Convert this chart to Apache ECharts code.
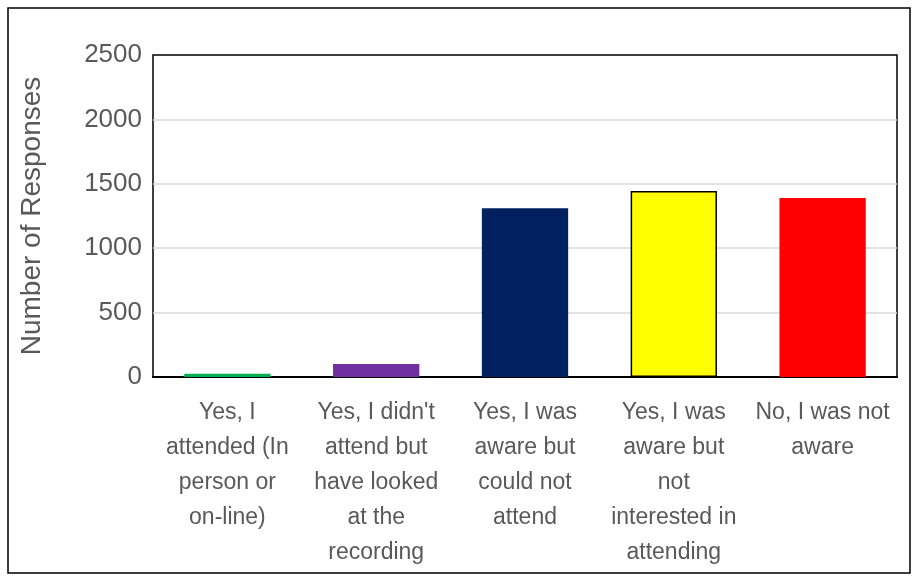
<!DOCTYPE html>
<html><head><meta charset="utf-8">
<script src="https://cdn.jsdelivr.net/npm/echarts@6/dist/echarts.min.js"></script>
<style>html,body{margin:0;padding:0;background:#fff}#c{width:918px;height:581px}</style>
</head><body><div id="c"></div>
<script>
const categories = [
  "Yes, I\nattended (In\nperson or\non-line)",
  "Yes, I didn't\nattend but\nhave looked\nat the\nrecording",
  "Yes, I was\naware but\ncould not\nattend",
  "Yes, I was\naware but\nnot\ninterested in\nattending",
  "No, I was not\naware"
];
const values = [25, 100, 1310, 1445, 1390];
const barColors = ["#00B050", "#7030A0", "#002060", "#FFFF00", "#FF0000"];
const barBorders = [0, 0, 0, 1.5, 0];
const yTicks = {min: 0, max: 2500, interval: 500};
const yName = "Number of Responses";

const font = "'Liberation Sans', Arial, sans-serif";
const chart = echarts.init(document.getElementById('c'), null, {renderer: 'canvas'});
chart.setOption({
  animation: false,
  backgroundColor: '#fff',
  graphic: [{type: 'rect', shape: {x: 8, y: 8, width: 902, height: 565}, style: {fill: 'none', stroke: '#000', lineWidth: 1.5}, z: 100}],
  grid: {left: 153, right: 21, top: 55, bottom: 204, show: true, borderColor: '#000', borderWidth: 1.5, backgroundColor: 'transparent'},
  xAxis: {
    type: 'category', data: categories,
    axisLine: {lineStyle: {color: '#000', width: 2}},
    axisTick: {show: false},
    axisLabel: {interval: 0, color: '#595959', fontSize: 23, fontFamily: font, lineHeight: 35, margin: 18}
  },
  yAxis: {
    type: 'value', min: yTicks.min, max: yTicks.max, interval: yTicks.interval,
    name: yName, nameLocation: 'middle', nameGap: 107,
    nameTextStyle: {color: '#595959', fontSize: 28, fontFamily: font},
    axisLine: {show: false}, axisTick: {show: false},
    axisLabel: {color: '#595959', fontSize: 26, fontFamily: font, margin: 11, formatter: v => String(v)},
    splitLine: {showMaxLine: false, showMinLine: false, lineStyle: {color: '#D9D9D9', width: 1.5}}
  },
  series: [{
    type: 'bar', barWidth: '58%',
    data: values.map((v, i) => ({value: v, itemStyle: {color: barColors[i], borderColor: '#000', borderWidth: barBorders[i]}}))
  }]
});
</script></body></html>
